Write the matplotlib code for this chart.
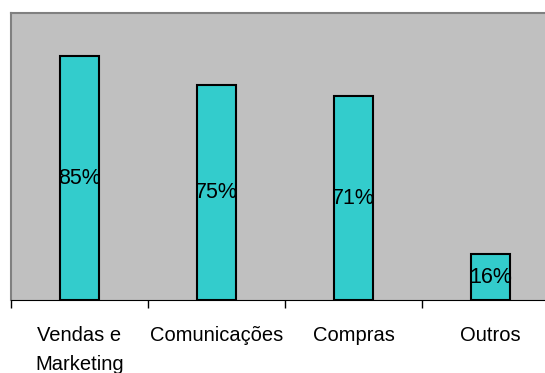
import matplotlib.pyplot as plt
import numpy as np

plt.rcParams['font.family'] = ['Liberation Sans', 'DejaVu Sans']

categories = ['Vendas e\nMarketing', 'Comunicações', 'Compras', 'Outros']
values = [0.85, 0.75, 0.71, 0.16]
labels = ['85%', '75%', '71%', '16%']

fig = plt.figure(figsize=(5.45, 3.73), dpi=100)
# plot area runs past the right edge of the picture, as in the original
ax = fig.add_axes([11 / 545, 73 / 373, 548 / 545, 287 / 373])
ax.set_facecolor('#c0c0c0')

x = np.arange(len(categories))
bars = ax.bar(x, values, width=0.29, color='#33cccc', edgecolor='black', linewidth=1.5)

for bar, lab in zip(bars, labels):
    ax.text(bar.get_x() + bar.get_width() / 2, bar.get_height() / 2, lab,
            ha='center', va='center', fontsize=15.5)

ax.set_xlim(-0.5, len(categories) - 0.5)
ax.set_ylim(0, 1)
ax.set_yticks([])

ax.set_xticks(x)
ax.set_xticklabels(categories, fontsize=14.5, linespacing=1.65)
ax.tick_params(axis='x', which='major', length=0, pad=19)
ax.set_xticks(np.arange(len(categories) + 1) - 0.5, minor=True)
ax.tick_params(axis='x', which='minor', length=6, width=1, color='black')

ax.spines['top'].set_color('#808080')
ax.spines['left'].set_color('#808080')
ax.spines['top'].set_linewidth(1.5)
ax.spines['left'].set_linewidth(1.5)
ax.spines['bottom'].set_color('black')
ax.spines['right'].set_visible(False)

fig.savefig('out.png', dpi=100)
